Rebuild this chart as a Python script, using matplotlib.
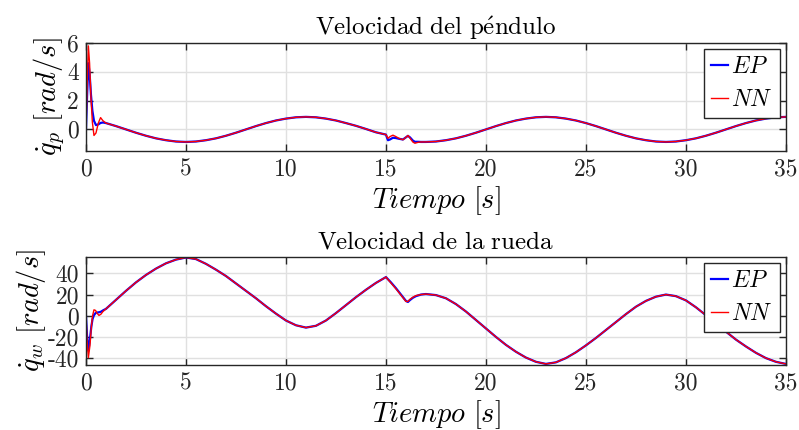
import numpy as np
import matplotlib
matplotlib.use('Agg')
import matplotlib.pyplot as plt

# tiempos y velocidades del péndulo (EP = espacio de parámetros, NN = red neuronal)
t_p_init = [0, 0.06, 0.12, 0.18, 0.25, 0.32, 0.4, 0.5, 0.62, 0.73, 0.85]
p_ep_init = [0, 2.5, 4.6, 3.9, 2.4, 1.3, 0.6, 0.3, 0.35, 0.45, 0.48]
p_nn_init = [0, 3.2, 5.8, 4.6, 2.2, 0.5, -0.42, -0.25, 0.45, 0.82, 0.6]

t_p_a = [1.0, 1.5, 2.0, 2.5, 3.0, 3.5, 4.0, 4.5, 5.0, 5.5, 6.0, 6.5, 7.0, 7.5,
         8.0, 8.5, 9.0, 9.5, 10.0, 10.5, 11.0, 11.5, 12.0, 12.5, 13.0, 13.5,
         14.0, 14.5]
p_a = [0.44, 0.23, 0.0, -0.23, -0.44, -0.62, -0.75, -0.84, -0.87, -0.84, -0.75,
       -0.62, -0.44, -0.23, 0.0, 0.23, 0.44, 0.62, 0.75, 0.84, 0.87, 0.84, 0.75,
       0.62, 0.44, 0.25, 0.03, -0.2]

t_p_dist = [15.0, 15.1, 15.2, 15.35, 15.5, 15.65, 15.85, 16.0, 16.1, 16.2,
            16.35, 16.45, 16.6, 16.75]
p_ep_dist = [-0.36, -0.75, -0.7, -0.58, -0.6, -0.65, -0.7, -0.55, -0.45, -0.55,
             -0.78, -0.86, -0.86, -0.87]
p_nn_dist = [-0.36, -0.62, -0.5, -0.4, -0.5, -0.62, -0.72, -0.55, -0.42, -0.6,
             -0.88, -0.96, -0.9, -0.87]

t_p_b = [17.0, 17.5, 18.0, 18.5, 19.0, 19.5, 20.0, 20.5, 21.0, 21.5, 22.0, 22.5,
         23.0, 23.5, 24.0, 24.5, 25.0, 25.5, 26.0, 26.5, 27.0, 27.5, 28.0, 28.5,
         29.0, 29.5, 30.0, 30.5, 31.0, 31.5, 32.0, 32.5, 33.0, 33.5, 34.0, 34.5,
         35.0]
p_b = [-0.87, -0.84, -0.75, -0.62, -0.44, -0.23, 0.0, 0.23, 0.44, 0.62, 0.75,
       0.84, 0.87, 0.84, 0.75, 0.62, 0.44, 0.23, 0.0, -0.23, -0.44, -0.62, -0.75,
       -0.84, -0.87, -0.84, -0.75, -0.62, -0.44, -0.23, 0.0, 0.23, 0.44, 0.62,
       0.75, 0.84, 0.87]

# velocidades de la rueda
t_w_init = [0, 0.05, 0.12, 0.2, 0.27, 0.33, 0.4, 0.48, 0.55, 0.65, 0.75, 0.85]
w_ep_init = [0, -18, -33, -22, -10, -3, 0.5, 2.5, 3.0, 3.3, 3.8, 5.0]
w_nn_init = [0, -22, -39.5, -28, -10.5, 0, 5.6, 5.0, 2.5, 0.3, 1.5, 4.0]

t_w_a = [1.0, 1.5, 2.0, 2.5, 3.0, 3.5, 4.0, 4.5, 5.0, 5.5, 6.0, 6.5, 7.0, 7.5,
         8.0, 8.5, 9.0, 9.5, 10.0, 10.5, 11.0, 11.5, 12.0, 12.5, 13.0, 13.5,
         14.0, 14.5, 15.0]
w_a = [6.5, 15, 23.5, 31.5, 38.5, 44.5, 49.5, 53, 55, 53.5, 49, 43.5, 37.5,
       30.5, 23.5, 16.5, 9, 2, -4.5, -9, -11.2, -9.5, -4.5, 2.5, 10, 17.5, 24.5,
       31, 36.5]

t_w_dist = [15.25, 15.5, 15.75, 16.0, 16.1, 16.2, 16.35, 16.5, 16.75]
w_ep_dist = [31.5, 26, 20, 14, 13, 14.8, 17, 18.5, 20]
w_nn_dist = [31, 25.5, 19.5, 13.5, 13.5, 15.5, 17.5, 19, 20]

t_w_b = [17.0, 17.5, 18.0, 18.5, 19.0, 19.5, 20.0, 20.5, 21.0, 21.5, 22.0, 22.5,
         23.0, 23.5, 24.0, 24.5, 25.0, 25.5, 26.0, 26.5, 27.0, 27.5, 28.0, 28.5,
         29.0, 29.5, 30.0, 30.5, 31.0, 31.5, 32.0, 32.5, 33.0, 33.5, 34.0, 34.5,
         35.0]
w_b = [20.5, 19.5, 16.5, 11, 4, -4, -12, -20, -27.5, -34, -39.5, -43.5,
       -45.5, -44, -40, -34.5, -28, -21, -13.5, -6, 1.5, 8.5, 14, 18, 20, 18.5,
       14.5, 8, 0.5, -7, -15, -22.5, -29, -35, -40, -43.5, -45.5]

x_ticks = [0, 5, 10, 15, 20, 25, 30, 35]
p_ticks = [0, 2, 4, 6]
w_ticks = [-40, -20, 0, 20, 40]

t_p = np.concatenate([t_p_init, t_p_a, t_p_dist, t_p_b])
p_ep = np.concatenate([p_ep_init, p_a, p_ep_dist, p_b])
p_nn = np.concatenate([p_nn_init, p_a, p_nn_dist, p_b])

t_w = np.concatenate([t_w_init, t_w_a, t_w_dist, t_w_b])
w_ep = np.concatenate([w_ep_init, w_a, w_ep_dist, w_b])
w_nn = np.concatenate([w_nn_init, w_a, w_nn_dist, w_b])

plt.rcParams['font.family'] = ['cmr10']
plt.rcParams['mathtext.fontset'] = 'cm'
plt.rcParams['axes.unicode_minus'] = False

EDGE = '#262626'


def style_axes(ax, yticks, ylim):
    ax.set_xlim(0, 35)
    ax.set_ylim(*ylim)
    ax.set_xticks(x_ticks)
    ax.set_xticklabels([str(v) for v in x_ticks])
    ax.set_yticks(yticks)
    ax.set_yticklabels([str(v) for v in yticks])
    ax.tick_params(direction='in', length=5, width=1, colors=EDGE,
                   labelsize=17, top=True, right=True, pad=5)
    ax.grid(True, color='#e0e0e0', linewidth=1)
    ax.set_axisbelow(True)
    for s in ax.spines.values():
        s.set_color(EDGE)
        s.set_linewidth(1)
    ax.set_xlabel(r'$Tiempo\ [s]$', fontsize=20.5, labelpad=3)
    leg = ax.legend(loc='upper right', fontsize=17, fancybox=False,
                    edgecolor=EDGE, framealpha=1, handlelength=0.7,
                    handletextpad=0.15, borderpad=0.3, labelspacing=0.45,
                    borderaxespad=0.25)
    leg.get_frame().set_linewidth(1)


fig = plt.figure(figsize=(7.99, 4.30), dpi=100)
ax1 = fig.add_axes([0.1076, 0.6488, 0.876, 0.2512])
ax2 = fig.add_axes([0.1076, 0.1512, 0.876, 0.2512])

ax1.plot(t_p, p_ep, color='blue', linewidth=1.6, label=r'$EP$')
ax1.plot(t_p, p_nn, color='red', linewidth=1.0, label=r'$NN$')
style_axes(ax1, p_ticks, (-1.5, 6))
ax1.set_ylabel(r'$\dot{q}_p\ [rad/s]$', fontsize=20.5, labelpad=0)
ax1.set_title(r'$\mathrm{Velocidad\ del\ p\acute{e}ndulo}$', fontsize=18, pad=6)

ax2.plot(t_w, w_ep, color='blue', linewidth=1.6, label=r'$EP$')
ax2.plot(t_w, w_nn, color='red', linewidth=1.0, label=r'$NN$')
style_axes(ax2, w_ticks, (-46.5, 55.5))
ax2.set_ylabel(r'$\dot{q}_w\ [rad/s]$', fontsize=20.5, labelpad=0)
ax2.set_title(r'$\mathrm{Velocidad\ de\ la\ rueda}$', fontsize=18, pad=6)

fig.savefig('out.png', dpi=100)
